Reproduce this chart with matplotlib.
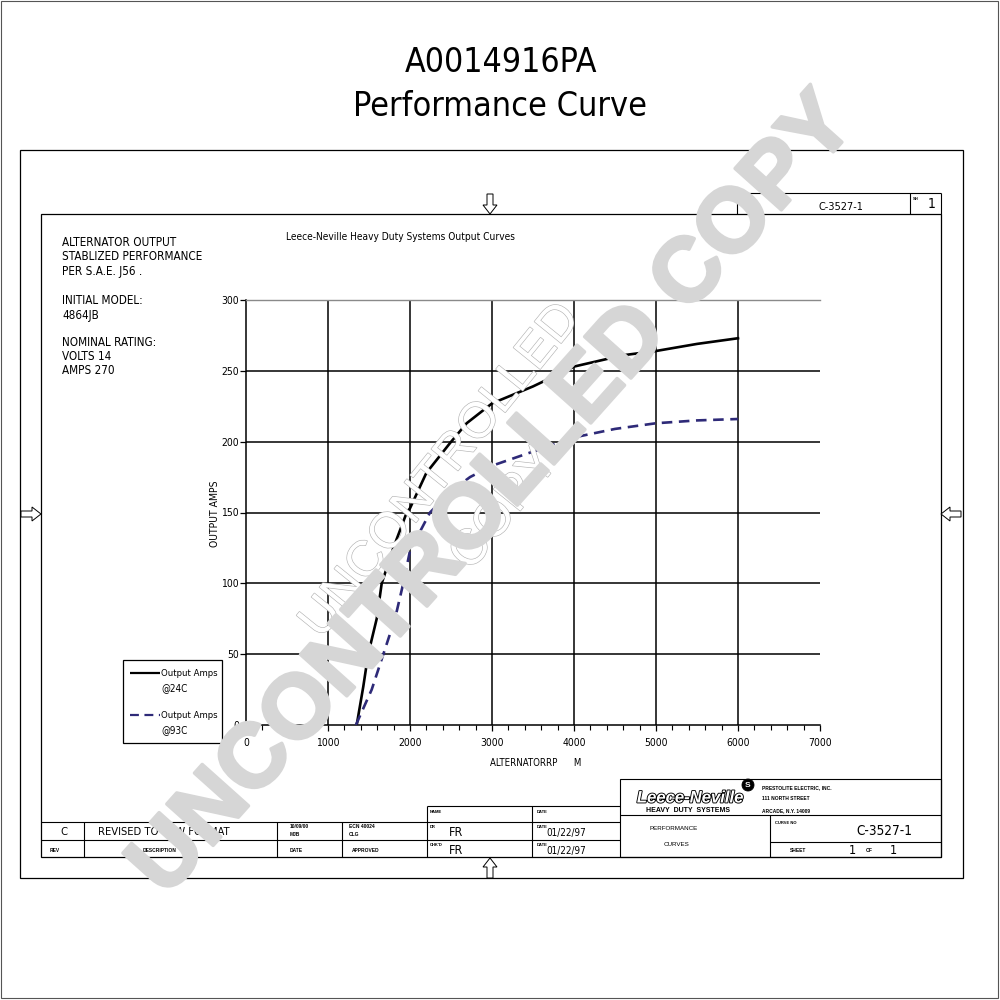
import numpy as np
import matplotlib
matplotlib.use('Agg')
import matplotlib.pyplot as plt
from matplotlib import font_manager
from matplotlib.font_manager import FontProperties
from matplotlib.patches import Polygon, Rectangle, Circle
import matplotlib.patheffects as pe

# ---- data ----
rpm_24 = [1350, 1430, 1490, 1594, 1655, 1797, 1960, 2000, 2200, 2488, 2691, 3000, 3500, 3789, 4000, 4598, 5000, 5500, 6000]
amps_24 = [0, 27, 50, 75, 100, 125, 150, 153, 178, 199, 213, 227, 239, 247, 253, 261, 264, 269, 273]

rpm_93 = [1340, 1533, 1675, 1817, 1918, 2000, 2244, 2500, 2732, 3000, 3500, 4000, 4500, 5000, 5500, 6000]
amps_93 = [0, 25, 50, 75, 100, 123, 150, 165, 175, 183, 193, 203, 209, 213, 215, 216]

x_ticks = [0, 1000, 2000, 3000, 4000, 5000, 6000, 7000]
y_ticks = [0, 50, 100, 150, 200, 250, 300]

notes = ["ALTERNATOR OUTPUT", "STABLIZED PERFORMANCE", "PER S.A.E. J56 .", "",
         "INITIAL MODEL:", "4864JB", "",
         "NOMINAL RATING:", "VOLTS 14", "AMPS 270"]

# look for a condensed sans face, the drawing uses narrow lettering
cond_path = None
for f in font_manager.fontManager.ttflist:
    nm = f.name + ' ' + str(f.stretch)
    if ('Narrow' in nm or 'ondensed' in nm) and 'Mono' not in f.name and 'Serif' not in f.name \
            and f.style == 'normal' and str(f.weight) in ('400', 'normal', 'regular'):
        cond_path = f.fname
        break
plain = 'Liberation Sans'

fig = plt.figure(figsize=(10, 10), dpi=100)
fig.patch.set_facecolor('white')

bg = fig.add_axes([0, 0, 1, 1], zorder=0)
bg.set_xlim(0, 1000)
bg.set_ylim(1000, 0)
bg.axis('off')

fitted = []  # (texts, reference text, target width in px)


def fp(size, narrow=True, **kw):
    if narrow and cond_path:
        return FontProperties(fname=cond_path, size=size)
    return FontProperties(family=plain, size=size, **kw)


def line(x0, y0, x1, y1, lw=0.8, c='black'):
    bg.plot([x0, x1], [y0, y1], color=c, lw=lw, solid_capstyle='butt')


def box(x0, y0, x1, y1, lw=0.8, c='black'):
    bg.add_patch(Rectangle((x0, y0), x1 - x0, y1 - y0, fill=False, ec=c, lw=lw))


def txt(x, y, s, size=8, ha='left', va='center', narrow=True, width=None, **kw):
    t = bg.text(x, y, s, ha=ha, va=va, fontproperties=fp(size, narrow), **kw)
    if width:
        fitted.append(([t], t, width))
    return t


def small(x, y, s, size=3.5, ha='left', weight='bold'):
    return bg.text(x, y, s, ha=ha, va='center', fontproperties=fp(size, False, weight=weight))


def arrow(tx, ty, direction):
    pts = np.array([(-20, -3), (-9, -3), (-9, -7), (0, 0), (-9, 7), (-9, 3), (-20, 3)], float)
    dx, dy = {'right': (1, 0), 'left': (-1, 0), 'down': (0, 1), 'up': (0, -1)}[direction]
    xy = np.column_stack([tx + pts[:, 0] * dx - pts[:, 1] * dy,
                          ty + pts[:, 0] * dy + pts[:, 1] * dx])
    bg.add_patch(Polygon(xy, closed=True, fc='white', ec='black', lw=0.7, zorder=3))


# page border and frames
box(1, 1, 998, 998, lw=0.8, c='#555555')
box(20, 150, 963, 878, lw=0.9)
box(41, 214, 941, 857, lw=0.9)
arrow(490, 214, 'down')
arrow(41, 514, 'right')
arrow(941, 514, 'left')
arrow(490, 858, 'up')

# page title
txt(501, 63, "A0014916PA", size=26, ha='center', width=193)
txt(500, 107, "Performance Curve", size=26, ha='center', width=295)

# sheet number box
line(737, 193, 941, 193)
line(737, 193, 737, 214)
line(910, 193, 910, 214)
line(941, 193, 941, 214)
txt(841, 207, "C-3527-1", size=8, ha='center', width=45)
small(913, 199, "SH", size=3)
txt(932, 204, "1", size=10, ha='center')

# notes block, all lines one size, set by the widest line
ny = [243, 257, 271, 285, 300, 315, 329, 343, 357, 371]
note_txt = []
for y, s in zip(ny, notes):
    if s:
        note_txt.append(bg.text(62, y, s, ha='left', va='center', fontproperties=fp(8)))
fitted.append((note_txt, note_txt[1], 140))

txt(401, 237, "Leece-Neville Heavy Duty Systems Output Curves", size=8.5, ha='center', width=228)
txt(215, 514, "OUTPUT AMPS", size=7.5, ha='center', rotation=90)
txt(536, 763, "ALTERNATORRP      M", size=7.5, ha='center', width=90)

# ---- chart ----
ax = fig.add_axes([0.246, 0.275, 0.574, 0.425], zorder=2)
ax.set_facecolor('none')
ax.set_xlim(0, 7000)
ax.set_ylim(0, 300)
for y in y_ticks[1:-1]:
    ax.axhline(y, color='black', lw=1.1, zorder=1)
for x in x_ticks[1:-1]:
    ax.axvline(x, color='black', lw=1.1, zorder=1)
ax.spines['right'].set_visible(False)
ax.spines['top'].set_color('#8a8a8a')
ax.spines['top'].set_linewidth(1.0)
ax.spines['left'].set_linewidth(1.1)
ax.spines['bottom'].set_linewidth(1.1)

ax.plot(rpm_24, amps_24, color='black', lw=1.9, zorder=3)
ax.plot(rpm_93, amps_93, color='#2e2a78', lw=1.9, dashes=(4, 2.5), zorder=3)

ax.set_xticks(x_ticks)
ax.set_xticks(np.arange(0, 7001, 200), minor=True)
ax.set_yticks(y_ticks)
ax.set_xticklabels([str(v) for v in x_ticks], fontproperties=fp(7.5))
ax.set_yticklabels([str(v) for v in y_ticks], fontproperties=fp(7.5))
ax.tick_params(axis='x', which='major', direction='out', length=4, width=0.9, pad=5)
ax.tick_params(axis='x', which='minor', direction='out', length=3.5, width=0.8)
ax.tick_params(axis='y', which='major', direction='out', length=4, width=0.9, pad=1)

# legend box
box(123, 660, 222, 743, lw=0.9)
line(130, 673, 160, 673, lw=1.6)
bg.plot([130, 160], [715, 715], color='#2e2a78', lw=1.6, dashes=(4, 2.5))
txt(161, 673, "Output Amps", size=7.5, width=56)
txt(161, 688, "@24C", size=7.5, width=26)
txt(161, 715, "Output Amps", size=7.5, width=56)
txt(161, 730, "@93C", size=7.5, width=26)

# ---- title block ----
line(41, 822, 620, 822)
line(41, 840, 620, 840)
line(427, 806, 620, 806)
for x in [84, 277, 342]:
    line(x, 822, x, 857)
line(427, 806, 427, 857)
line(532, 806, 532, 857)
box(620, 779, 941, 857)
line(620, 815, 941, 815)
line(770, 815, 770, 857)
line(770, 842, 941, 842)

txt(64, 832, "C", size=8, ha='center')
txt(98, 832, "REVISED TO NEW FORMAT", size=8)
small(290, 827, "10/09/00")
small(290, 834, "MJB")
small(349, 827, "ECN 40024")
small(349, 834, "CLG")
small(50, 850, "REV")
small(160, 850, "DESCRIPTION", ha='center')
small(290, 850, "DATE")
small(352, 850, "APPROVED")

small(430, 812, "NAME", size=3)
small(537, 812, "DATE", size=3)
small(430, 827, "DR", size=3)
small(537, 827, "DATE", size=3)
small(430, 845, "CHK'D", size=3)
small(537, 845, "DATE", size=3)
txt(449, 832, "FR", size=9)
txt(449, 850, "FR", size=9)
txt(546, 833, "01/22/97", size=9, width=40)
txt(546, 851, "01/22/97", size=9, width=40)

# company logo
bg.text(690, 798, "Leece-Neville", ha='center', va='center', color='white',
        fontproperties=FontProperties(family=plain, size=12, style='italic', weight='bold'),
        path_effects=[pe.withStroke(linewidth=1.3, foreground='black')])
bg.text(688, 810, "HEAVY  DUTY  SYSTEMS", ha='center', va='center',
        fontproperties=FontProperties(family=plain, size=5, weight='bold'))
bg.add_patch(Circle((748, 785), 6, fc='black', ec='black', lw=0.6))
bg.text(748, 785.5, "S", ha='center', va='center', color='white',
        fontproperties=FontProperties(family=plain, size=6, weight='bold'))
small(762, 788, "PRESTOLITE ELECTRIC, INC.")
small(762, 799, "111 NORTH STREET")
small(762, 811, "ARCADE, N.Y. 14009")

small(674, 829, "PERFORMANCE", size=4.5, ha='center', weight='normal')
small(676, 845, "CURVES", size=4.5, ha='center', weight='normal')
small(775, 823, "CURVE NO", size=3)
txt(884, 831, "C-3527-1", size=10, ha='center', width=56)
small(790, 851, "SHEET")
txt(852, 850, "1", size=9, ha='center')
small(866, 851, "OF")
txt(893, 850, "1", size=9, ha='center')

# ---- watermarks on top ----
wm = fig.add_axes([0, 0, 1, 1], zorder=10)
wm.set_xlim(0, 1000)
wm.set_ylim(1000, 0)
wm.axis('off')
wm.patch.set_alpha(0)
outline = [pe.withStroke(linewidth=0.9, foreground='#b4b4b4')]
wm.text(441, 471, "UNCONTROLLED", fontsize=36, family=plain, rotation=51,
        rotation_mode='anchor', ha='center', va='center', color='white', path_effects=outline)
wm.text(505, 509, "COPY", fontsize=36, family=plain, rotation=51,
        rotation_mode='anchor', ha='center', va='center', color='white', path_effects=outline)
wm.text(494, 496, "UNCONTROLLED COPY", fontsize=65, family=plain, weight='bold',
        rotation=48.2, rotation_mode='anchor', ha='center', va='center', color='#d6d6d6',
        path_effects=[pe.withStroke(linewidth=2.5, foreground='#d6d6d6')])

# squeeze the lettering to the widths measured on the drawing
r = fig.canvas.get_renderer()
for group, ref, w in fitted:
    cur = ref.get_window_extent(r).width
    if cur > 0:
        k = w / cur
        for t in group:
            t.set_fontsize(t.get_fontsize() * k)

fig.savefig('out.png', dpi=100, facecolor='white')
